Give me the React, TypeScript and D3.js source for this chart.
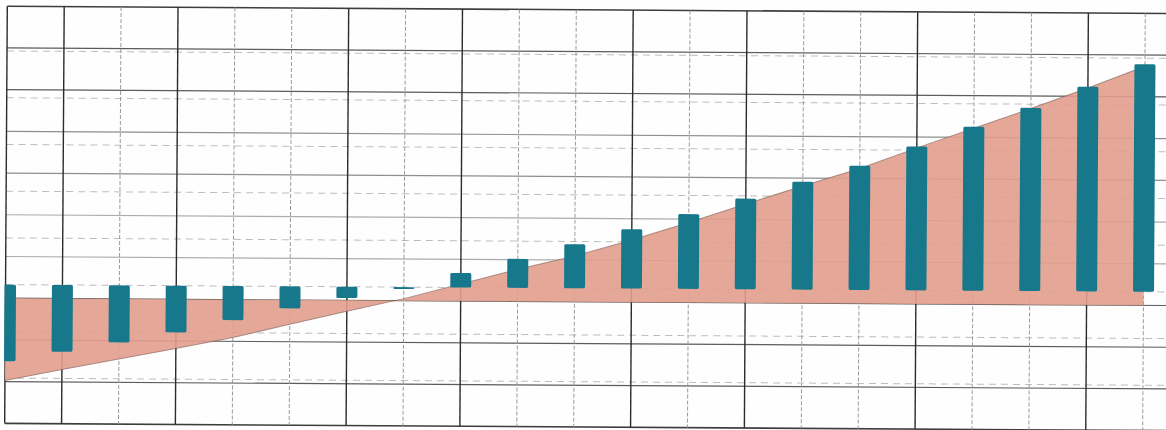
import React from "react";
import * as d3 from "d3";

const categories = ["1","2","3","4","5","6","7","8","9","10","11","12","13","14","15","16","17","18","19","20","21"];
const barValues = [-16.4, -14.3, -12.2, -10.0, -7.3, -4.7, -2.4, -0.4, 3.1, 6.2, 9.4, 12.7, 16.0, 19.4, 23.1, 26.6, 30.8, 35.1, 39.2, 43.8, 48.7];
const areaValues = [-19.7, -17.0, -14.4, -11.8, -9.1, -5.8, -2.6, 0.5, 4.1, 7.7, 11.0, 14.9, 19.2, 23.7, 28.1, 32.4, 37.4, 42.2, 47.0, 52.0, 57.3];
const barTicks = [-20, -10, 0, 10, 20, 30, 40, 50];
const areaTicks = [-30, -20, -10, 0, 10, 20, 30, 40, 50, 60, 70];
const lightAreaTicks = [10, 20];
const mediumAreaTicks = [30, 40];
const darkColumns = ["1", "2", "4", "7", "9", "12", "14", "17", "20"];

const W = 1166;
const H = 430;
const TOP = 9.8;
const BOTTOM = 427;
const LEFT = 6;

export default function App() {
  const x = d3.scalePoint<string>().domain(categories).range([LEFT, 1144]);
  const yBar = d3.scaleLinear().domain([-29.7, 59.6]).range([BOTTOM, TOP]);
  const yArea = d3.scaleLinear().domain([-30, 70]).range([BOTTOM, TOP]);
  const barW = 21;

  const data = categories.map((c, i) => ({ c, b: barValues[i], a: areaValues[i] }));
  const areaGen = d3
    .area<{ c: string; a: number }>()
    .x((d) => x(d.c) as number)
    .y0(yArea(0))
    .y1((d) => yArea(d.a));
  const lineGen = d3
    .line<{ c: string; a: number }>()
    .x((d) => x(d.c) as number)
    .y((d) => yArea(d.a));

  return (
    <svg
      width={W}
      height={H}
      style={{ position: "absolute", left: 0, top: 0, background: "#fff" }}
    >
      <defs>
        <clipPath id="plotclip">
          <rect x={LEFT - 1} y={0} width={W + 20} height={H} />
        </clipPath>
      </defs>
      <rect x={0} y={0} width={W} height={H} fill="#fefefe" />
      <g transform={`rotate(0.36, ${W / 2}, ${H / 2})`}>
        {/* dashed horizontal grid (bar scale) */}
        {barTicks.map((t) => (
          <line
            key={"bd" + t}
            x1={LEFT}
            x2={W + 20}
            y1={yBar(t)}
            y2={yBar(t)}
            stroke="#bdbdbd"
            strokeWidth={1}
            strokeDasharray="7,5"
          />
        ))}
        {/* solid horizontal grid (area scale) */}
        {areaTicks.map((t) => {
          const edge = t === 70 || t === -30;
          const light = lightAreaTicks.includes(t);
          const medium = mediumAreaTicks.includes(t);
          return (
            <line
              key={"as" + t}
              x1={LEFT}
              x2={W + 20}
              y1={yArea(t)}
              y2={yArea(t)}
              stroke="#333"
              strokeOpacity={edge ? 0.95 : light ? 0.4 : medium ? 0.55 : 0.8}
              strokeWidth={edge ? 1.6 : 1.2}
            />
          );
        })}
        {/* vertical grid */}
        {categories.map((c, i) => {
          const dark = i === 0 || darkColumns.includes(c);
          return (
            <line
              key={"v" + c}
              x1={x(c) as number}
              x2={x(c) as number}
              y1={TOP}
              y2={BOTTOM}
              stroke={dark ? "#2c2c2c" : "#9a9a9a"}
              strokeWidth={dark ? 1.4 : 1}
              strokeDasharray={dark ? undefined : "4,2"}
            />
          );
        })}
        {/* area */}
        <path d={areaGen(data) || ""} fill="#e29e8d" fillOpacity={0.9} />
        <path
          d={lineGen(data) || ""}
          fill="none"
          stroke="#7a5a52"
          strokeOpacity={0.6}
          strokeWidth={1}
        />
        {/* bars */}
        <g clipPath="url(#plotclip)">
          {data.map((d) => (
            <rect
              key={"b" + d.c}
              x={(x(d.c) as number) - barW / 2}
              y={Math.min(yBar(d.b), yBar(0))}
              width={barW}
              height={Math.abs(yBar(d.b) - yBar(0))}
              rx={1.5}
              fill="#17788b"
            />
          ))}
        </g>
      </g>
    </svg>
  );
}
